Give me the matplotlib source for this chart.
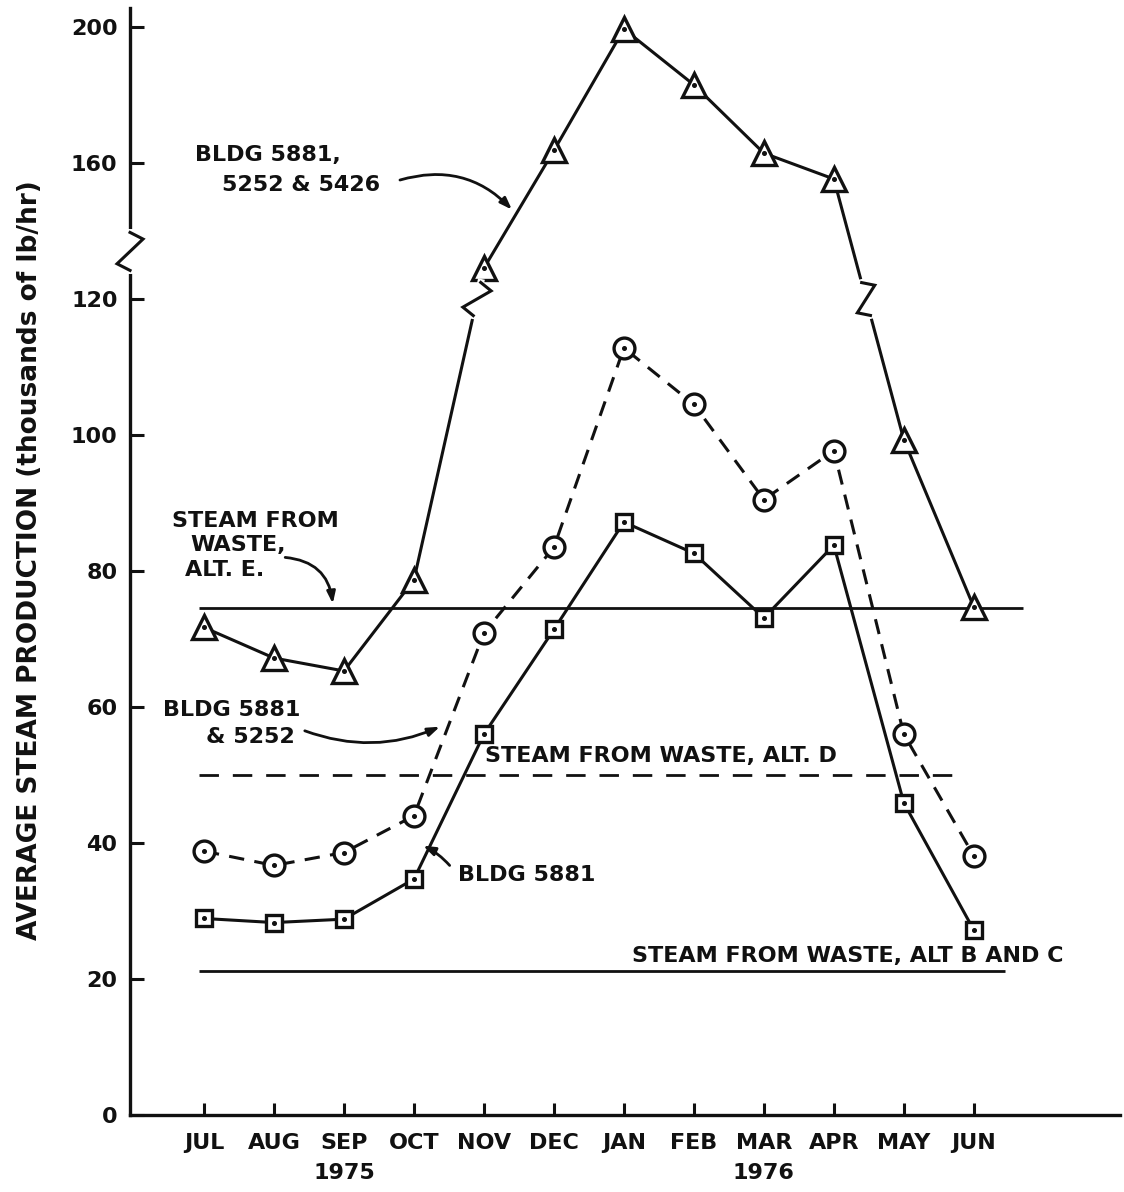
import numpy as np
import matplotlib
matplotlib.use('Agg')
import matplotlib.pyplot as plt
from matplotlib.lines import Line2D

# monthly average steam production (thousands of lb/hr), JUL 1975 - JUN 1976
months = ['JUL', 'AUG', 'SEP', 'OCT', 'NOV', 'DEC', 'JAN', 'FEB', 'MAR', 'APR', 'MAY', 'JUN']
years = ['1975', '1976']
bldg_three = [71.7, 67.2, 65.3, 78.7, 129.1, 163.7, 199.4, 183.0, 162.9, 155.3, 99.3, 74.7]
bldg_two = [38.8, 36.7, 38.6, 44.0, 70.9, 83.5, 112.8, 104.5, 90.5, 97.7, 56.0, 38.1]
bldg_one = [28.9, 28.3, 28.8, 34.7, 56.0, 71.4, 87.2, 82.6, 73.1, 83.8, 45.9, 27.2]
alt_e = 74.5
alt_d = 50.0
alt_bc = 21.2
yticks = [0, 20, 40, 60, 80, 100, 120, 160, 200]

BREAK = 120.0


def fwd(y):
    y = np.asarray(y, dtype=float)
    return np.where(y <= BREAK, y, BREAK + (y - BREAK) / 2.0)


def inv(t):
    t = np.asarray(t, dtype=float)
    return np.where(t <= BREAK, t, BREAK + (t - BREAK) * 2.0)


FONT = 'DejaVu Sans'
plt.rcParams['font.family'] = FONT
plt.rcParams['font.weight'] = 'bold'

fig = plt.figure(figsize=(11.24, 11.92), dpi=100)
ax = fig.add_axes([0.1157, 0.0646, 0.8808, 0.9287])
ax.set_yscale('function', functions=(fwd, inv))
ax.set_xlim(-1.057, 13.09)
ax.set_ylim(0, 205.6)

x = np.arange(len(months))
black = '#111111'

ax.plot(x, bldg_three, color=black, lw=2.2, marker='^', ms=17, mew=2.4,
        mfc='white', mec=black, zorder=4)
ax.plot(x, bldg_two, color=black, lw=2.2, ls=(0, (5, 3.4)), marker='o', ms=15,
        mew=2.4, mfc='white', mec=black, zorder=3)
ax.plot(x, bldg_one, color=black, lw=2.2, marker='s', ms=12, mew=2.4,
        mfc='white', mec=black, zorder=3)
for s in (bldg_three, bldg_two, bldg_one):
    ax.plot(x, s, ls='none', marker='o', ms=2.6, color=black, zorder=5)

ax.hlines(alt_e, -0.07, 11.7, color=black, lw=2)
ax.hlines(alt_d, -0.07, 10.83, color=black, lw=2, linestyles=(0, (7, 5)))
ax.hlines(alt_bc, -0.07, 11.44, color=black, lw=2)

# axes styling
for sp in ('top', 'right'):
    ax.spines[sp].set_visible(False)
for sp in ('left', 'bottom'):
    ax.spines[sp].set_linewidth(2.4)
    ax.spines[sp].set_color(black)
ax.set_yticks(yticks)
ax.set_yticklabels([str(v) for v in yticks])
ax.set_xticks(x)
ax.set_xticklabels(months)
ax.tick_params(axis='y', direction='in', length=10, width=2.2, pad=9,
               labelsize=16, colors=black)
ax.tick_params(axis='x', direction='in', length=9, width=2.2, pad=13,
               labelsize=16, colors=black)
ax.minorticks_off()

for xi, yr in zip([2, 8], years):
    ax.annotate(yr, xy=(xi, 0), xycoords=('data', 'axes fraction'),
                xytext=(0, -42), textcoords='offset points', ha='center',
                va='center', fontsize=16, fontweight='bold', color=black)

ax.text(-2.49, 81.6, 'AVERAGE STEAM PRODUCTION (thousands of lb/hr)', rotation=90,
        ha='center', va='center', fontsize=19, fontweight='bold', color=black,
        transform=ax.transData)

# annotations
tkw = dict(fontsize=16, fontweight='bold', color=black, va='center', ha='left')
ax.text(-0.13, 162.3, 'BLDG 5881,', **tkw)
ax.text(0.26, 153.6, '5252 & 5426', **tkw)
ax.text(-0.457, 87.4, 'STEAM FROM', **tkw)
ax.text(-0.20, 83.8, 'WASTE,', **tkw)
ax.text(-0.27, 80.1, 'ALT. E.', **tkw)
ax.text(-0.586, 59.6, 'BLDG 5881', **tkw)
ax.text(0.03, 55.6, '& 5252', **tkw)
ax.text(4.01, 52.8, 'STEAM FROM WASTE, ALT. D', **tkw)
ax.text(3.63, 35.3, 'BLDG 5881', **tkw)
ax.text(6.11, 23.4, 'STEAM FROM WASTE, ALT B AND C', **tkw)

akw = dict(arrowstyle='-|>,head_length=0.7,head_width=0.25', color=black, lw=2,
           shrinkA=0, shrinkB=0)
ax.annotate('', xy=(4.4, 146.3), xytext=(2.8, 155.0),
            arrowprops=dict(connectionstyle='arc3,rad=-0.3', **akw))
ax.annotate('', xy=(1.84, 75.2), xytext=(1.16, 82.0),
            arrowprops=dict(connectionstyle='arc3,rad=-0.4', **akw))
ax.annotate('', xy=(3.37, 57.1), xytext=(1.44, 56.5),
            arrowprops=dict(connectionstyle='arc3,rad=0.2', **akw))
ax.annotate('', xy=(3.13, 39.6), xytext=(3.51, 36.7),
            arrowprops=dict(connectionstyle='arc3,rad=0.1', **akw))


# break marks (zigzags) drawn in pixel space
def zigzag(p, u, half=18, amp=13, z=6):
    p = np.asarray(p, float)
    u = np.asarray(u, float)
    u = u / np.hypot(*u)
    n = np.array([u[1], -u[0]])
    top = p + half * u
    bot = p - half * u
    fig.add_artist(Line2D([top[0], bot[0]], [top[1], bot[1]], color='white',
                          lw=5, transform=None, zorder=z))
    pts = np.array([top, p + 0.65 * half * u + amp * n,
                    p - 0.65 * half * u - amp * n, bot])
    fig.add_artist(Line2D(pts[:, 0], pts[:, 1], color=black, lw=2.2,
                          transform=None, zorder=z + 0.1,
                          solid_joinstyle='miter'))


fig.canvas.draw()
tr = ax.transData
# spine break
p0 = tr.transform((ax.get_xlim()[0], 134))
zigzag(p0, (0, 1), half=19, amp=13)
# line breaks where the triangle series crosses the scale break
for i in range(len(x) - 1):
    a, b = bldg_three[i], bldg_three[i + 1]
    if (a - BREAK) * (b - BREAK) < 0:
        pa = tr.transform((x[i], a))
        pb = tr.transform((x[i + 1], b))
        ta, tb = float(fwd(a)), float(fwd(b))
        f = (BREAK - ta) / (tb - ta)
        pc = pa + f * (pb - pa)
        d = pb - pa if pb[1] > pa[1] else pa - pb
        zigzag(pc, d, half=17, amp=12)

fig.savefig('out.png', dpi=100, facecolor='white')
